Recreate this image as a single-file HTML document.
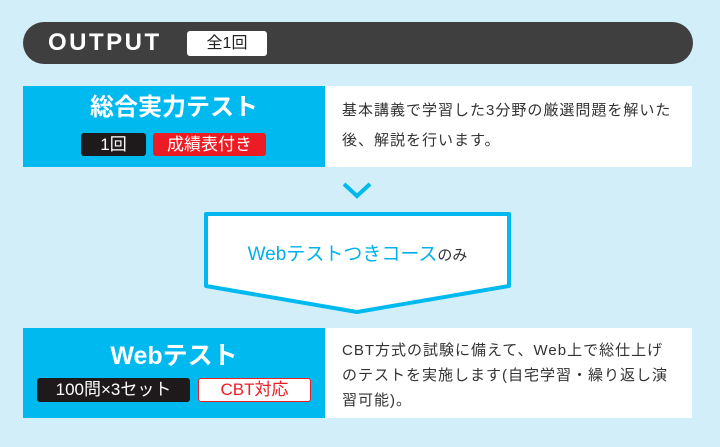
<!DOCTYPE html>
<html><head><meta charset="utf-8"><style>
body{margin:0;width:720px;height:447px;background:#d1eef9;position:relative;overflow:hidden;font-family:"Liberation Sans","Noto Sans CJK JP",sans-serif;}
.a{position:absolute;}
.bar{left:23px;top:22px;width:670px;height:42px;background:#3f3f3f;border-radius:21px;}
.blue{background:#00b9ef;}
.white{background:#fff;}
.t{white-space:nowrap;}
</style></head><body>
<div class="a bar"></div>
<div class="a t" style="left:48px;top:28px;font-size:24px;font-weight:bold;color:#fff;letter-spacing:2.5px;line-height:30px;">OUTPUT</div>
<div class="a t" style="left:187px;top:31px;width:80px;height:25px;background:#fff;border-radius:3px;font-size:16px;line-height:25px;text-align:center;color:#222;">全1回</div>

<div class="a blue" style="left:23px;top:86px;width:302px;height:81px;"></div>
<div class="a white" style="left:325px;top:86px;width:367px;height:81px;"></div>
<div class="a t" style="left:23px;top:93px;width:302px;text-align:center;font-size:24px;font-weight:bold;color:#fff;line-height:30px;">総合実力テスト</div>
<div class="a t" style="left:81px;top:133px;width:65px;height:23px;background:#1e1a1b;border-radius:3px;color:#fff;font-size:17px;line-height:23px;text-align:center;">1回</div>
<div class="a t" style="left:153px;top:133px;width:113px;height:23px;background:#ec1c24;border-radius:3px;color:#fff;font-size:17px;line-height:23px;text-align:center;">成績表付き</div>
<div class="a t" style="left:342px;top:96px;font-size:15px;line-height:30px;color:#333;letter-spacing:1px;">基本講義で学習した3分野の厳選問題を解いた<br>後、解説を行います。</div>

<svg class="a" style="left:0;top:0" width="720" height="447">
<polyline points="344,184 357,196 370,184" fill="none" stroke="#00b9ef" stroke-width="4"/>
<polygon points="206,214 509,214 509,286 357,312 206,286" fill="#fff" stroke="#00b9ef" stroke-width="4" stroke-linejoin="round"/>
</svg>
<div class="a t" style="left:206px;top:243px;width:303px;text-align:center;font-size:19px;line-height:24px;color:#00b0e8;">Webテストつきコース<span style="color:#333;font-size:15px;">のみ</span></div>

<div class="a blue" style="left:23px;top:328px;width:302px;height:90px;"></div>
<div class="a white" style="left:325px;top:328px;width:367px;height:90px;"></div>
<div class="a t" style="left:23px;top:341px;width:302px;text-align:center;font-size:25px;font-weight:bold;color:#fff;line-height:30px;">Webテスト</div>
<div class="a t" style="left:37px;top:378px;width:153px;height:24px;background:#1e1a1b;border-radius:3px;color:#fff;font-size:17px;line-height:24px;text-align:center;">100問×3セット</div>
<div class="a t" style="left:198px;top:378px;width:111px;height:22px;background:#fff;border:1px solid #ec1c24;border-radius:3px;color:#ec1c24;font-size:17px;line-height:22px;text-align:center;">CBT対応</div>
<div class="a t" style="left:342px;top:338px;font-size:15px;line-height:25px;color:#333;letter-spacing:1px;">CBT方式の試験に備えて、Web上で総仕上げ<br>のテストを実施します(自宅学習・繰り返し演<br>習可能)。</div>
</body></html>
